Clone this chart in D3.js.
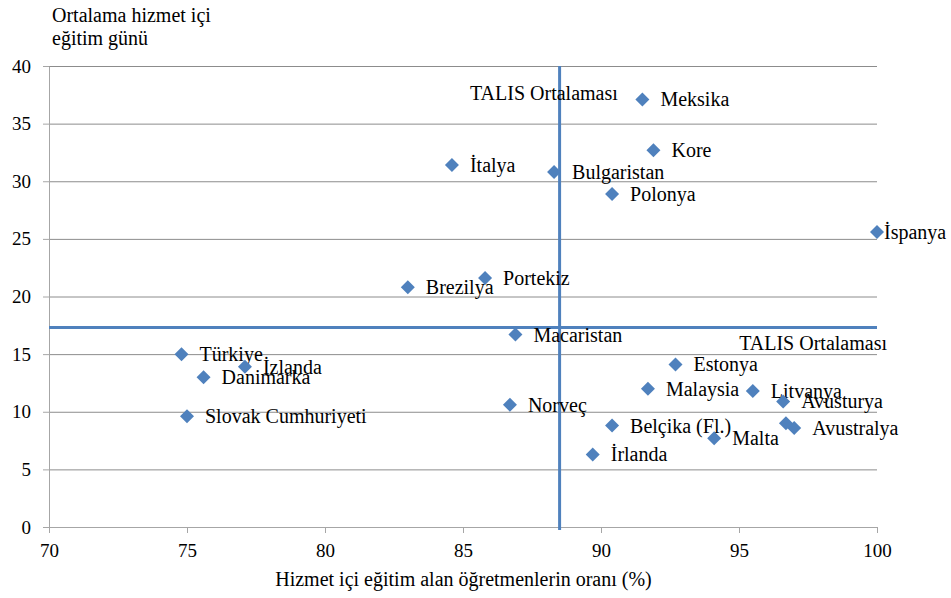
<!DOCTYPE html>
<html>
<head>
<meta charset="utf-8">
<script src="https://cdn.jsdelivr.net/npm/d3@7"></script>
<style>
body { margin: 0; background: #fff; }
</style>
</head>
<body>
<script>
// data
var countries = ["Meksika", "Kore", "İtalya", "Bulgaristan", "Polonya", "İspanya", "Portekiz",
    "Brezilya", "Macaristan", "Türkiye", "İzlanda", "Danimarka", "Slovak Cumhuriyeti", "Estonya",
    "Malaysia", "Litvanya", "Avusturya", "Norveç", "Belçika (Fl.)", "Avustralya", "", "Malta", "İrlanda"];
var trainedShare = [91.5, 91.9, 84.6, 88.3, 90.4, 100.0, 85.8,
    83.0, 86.9, 74.8, 77.1, 75.6, 75.0, 92.7,
    91.7, 95.5, 96.6, 86.7, 90.4, 97.0, 96.7, 94.1, 89.7];
var trainingDays = [37.1, 32.7, 31.4, 30.8, 28.9, 25.6, 21.6,
    20.8, 16.7, 15.0, 13.9, 13.0, 9.6, 14.1,
    12.0, 11.8, 10.9, 10.6, 8.8, 8.6, 9.0, 7.7, 6.3];
var xTicks = [70, 75, 80, 85, 90, 95, 100];
var yTicks = [0, 5, 10, 15, 20, 25, 30, 35, 40];
var talisAvgX = 88.5;
var talisAvgY = 17.3;

var w = 951, h = 598;
var plotLeft = 49, plotRight = 877, plotTop = 66, plotBottom = 527;
var blue = "#4f81bd";
var serif = "'Liberation Serif', 'Times New Roman', 'DejaVu Serif', serif";

// labels sitting closer to their marker than the usual gap
var labelGap = { "İspanya": 7 };

var svg = d3.select("body")
    .append("svg")
    .attr("width", w)
    .attr("height", h)
    .attr("font-family", serif);

var x = d3.scaleLinear().domain([70, 100]).range([plotLeft, plotRight]);
var y = d3.scaleLinear().domain([0, 40]).range([plotBottom, plotTop]);

// horizontal gridlines
svg.append("g")
    .attr("transform", "translate(" + plotLeft + ",0)")
    .call(d3.axisLeft(y).tickValues(yTicks).tickSize(-(plotRight - plotLeft)).tickFormat(""))
    .call(function (g) {
        g.select(".domain").remove();
        g.selectAll("line").attr("stroke", "#8c8c8c");
    });

// y axis
svg.append("g")
    .attr("transform", "translate(" + plotLeft + ",0)")
    .call(d3.axisLeft(y).tickValues(yTicks).tickSizeInner(6).tickSizeOuter(0).tickPadding(12))
    .call(function (g) {
        g.attr("font-family", serif).attr("font-size", 19);
        g.select(".domain").attr("stroke", "#a6a6a6");
        g.selectAll("line").attr("stroke", "#a6a6a6");
        g.selectAll("text").attr("fill", "#000");
    });

// x axis
svg.append("g")
    .attr("transform", "translate(0," + plotBottom + ")")
    .call(d3.axisBottom(x).tickValues(xTicks).tickSizeInner(6).tickSizeOuter(0).tickPadding(11))
    .call(function (g) {
        g.attr("font-family", serif).attr("font-size", 19);
        g.select(".domain").attr("stroke", "#a6a6a6");
        g.selectAll("line").attr("stroke", "#a6a6a6");
        g.selectAll("text").attr("fill", "#000");
    });

// TALIS average lines
svg.append("line")
    .attr("x1", x(70)).attr("x2", x(100))
    .attr("y1", y(talisAvgY)).attr("y2", y(talisAvgY))
    .attr("stroke", blue).attr("stroke-width", 3);

svg.append("line")
    .attr("x1", x(talisAvgX)).attr("x2", x(talisAvgX))
    .attr("y1", y(40)).attr("y2", y(0) + 3)
    .attr("stroke", blue).attr("stroke-width", 3);

svg.append("text")
    .attr("x", 470).attr("y", 100)
    .attr("font-size", 20)
    .text("TALIS Ortalaması");

svg.append("text")
    .attr("x", 887).attr("y", 350)
    .attr("text-anchor", "end")
    .attr("font-size", 20)
    .text("TALIS Ortalaması");

// points
var points = svg.append("g").selectAll("g")
    .data(countries)
    .enter()
    .append("g")
    .attr("transform", function (d, i) {
        return "translate(" + x(trainedShare[i]) + "," + y(trainingDays[i]) + ")";
    });

points.append("path")
    .attr("d", "M0,-7L7,0L0,7L-7,0Z")
    .attr("fill", blue);

points.append("text")
    .attr("x", function (d) { return labelGap[d] || 18; })
    .attr("y", 7)
    .attr("font-size", 20)
    .text(function (d) { return d; });

// axis titles
svg.append("text")
    .attr("x", 52).attr("y", 22)
    .attr("font-size", 20)
    .text("Ortalama hizmet içi");

svg.append("text")
    .attr("x", 52).attr("y", 45)
    .attr("font-size", 20)
    .text("eğitim günü");

svg.append("text")
    .attr("x", (272 + 655) / 2).attr("y", 586)
    .attr("text-anchor", "middle")
    .attr("font-size", 20)
    .text("Hizmet içi eğitim alan öğretmenlerin oranı (%)");
</script>
</body>
</html>
